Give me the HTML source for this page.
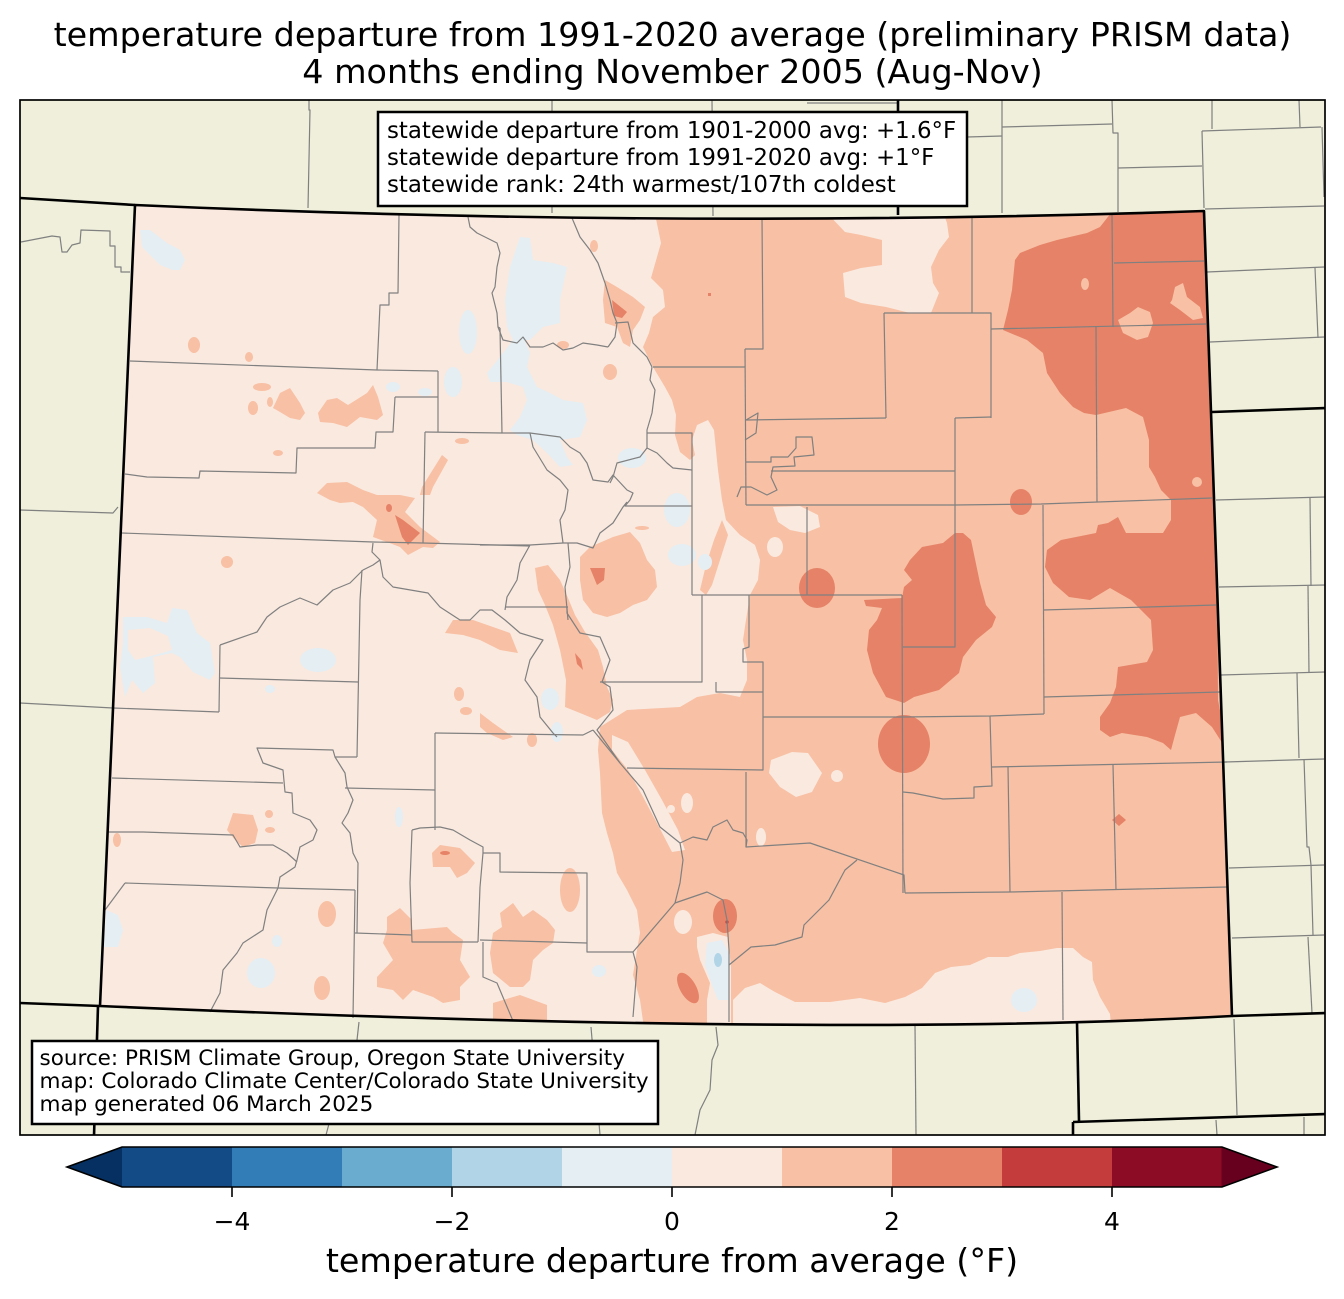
<!DOCTYPE html>
<html>
<head>
<meta charset="utf-8">
<style>
html,body{margin:0;padding:0;background:#fff;}
svg{display:block;}
text{font-family:"DejaVu Sans","Liberation Sans",sans-serif;fill:#000;}
.cl{fill:none;stroke:#808080;stroke-width:1.2;stroke-linejoin:round;}
.sb{fill:none;stroke:#000;stroke-width:2.6;stroke-linejoin:round;}
.s{fill:#f8c0a4;}
.d{fill:#e58267;}
.l{fill:#fae9df;}
.b{fill:#e4eef3;}
</style>
</head>
<body>
<svg width="1344" height="1299" viewBox="0 0 1344 1299" xmlns="http://www.w3.org/2000/svg">
<defs>
<clipPath id="co"><path d="M135,205 Q670,229 1204,211 L1232,1016 Q834,1038 100,1006 Z"/></clipPath>
<clipPath id="fr"><rect x="20" y="100" width="1305" height="1035"/></clipPath>
</defs>
<rect width="1344" height="1299" fill="#fff"/>

<!-- titles -->
<text x="672.5" y="46" font-size="33.33" text-anchor="middle">temperature departure from 1991-2020 average (preliminary PRISM data)</text>
<text x="672.5" y="83" font-size="33.33" text-anchor="middle">4 months ending November 2005 (Aug-Nov)</text>

<!-- map background -->
<rect x="20" y="100" width="1305" height="1035" fill="#efefdb"/>

<!-- neighbor county lines -->
<g clip-path="url(#fr)" class="cl">
<polyline class="cl" points="309,100 309,110 310,110 308,208"/>
<polyline class="cl" points="552,100 552,213"/>
<polyline class="cl" points="712,100 713,216"/>
<polyline class="cl" points="807,103 898,103"/>
<polyline class="cl" points="21,242 52,236 60,237 62,252 67,252 72,245 80,243 81,230 110,231 110,246 115,246 115,267 121,267 121,272 130,272"/>
<polyline class="cl" points="20,510 113,513 118,507"/>
<polyline class="cl" points="20,703 113,708"/>
<polyline class="cl" points="1002,100 1002,213"/>
<polyline class="cl" points="967,137 1002,136"/>
<polyline class="cl" points="1002,127 1112,124"/>
<polyline class="cl" points="1112,100 1113,133 1118,133 1118,212"/>
<polyline class="cl" points="1118,168 1202,166"/>
<polyline class="cl" points="1212,100 1212,129"/>
<polyline class="cl" points="1202,131 1321,127"/>
<polyline class="cl" points="1299,100 1300,127"/>
<polyline class="cl" points="1202,131 1204,208"/>
<polyline class="cl" points="1205,209 1324,206"/>
<polyline class="cl" points="1322,127 1324,197"/>
<polyline class="cl" points="1207,272 1324,267"/>
<polyline class="cl" points="1315,268 1318,338"/>
<polyline class="cl" points="1210,342 1324,337"/>
<polyline class="cl" points="1216,500 1325,497"/>
<polyline class="cl" points="1310,498 1311,586"/>
<polyline class="cl" points="1219,587 1325,585"/>
<polyline class="cl" points="1308,586 1309,673"/>
<polyline class="cl" points="1221,675 1325,672"/>
<polyline class="cl" points="1297,673 1299,758"/>
<polyline class="cl" points="1225,762 1324,759"/>
<polyline class="cl" points="1304,759 1307,847 1309,847 1311,865"/>
<polyline class="cl" points="1229,868 1324,865"/>
<polyline class="cl" points="1311,865 1313,935"/>
<polyline class="cl" points="1232,938 1324,935"/>
<polyline class="cl" points="1308,937 1312,1013"/>
<polyline class="cl" points="1234,1019 1237,1115"/>
<polyline class="cl" points="1216,1120 1217,1135"/>
<polyline class="cl" points="1304,1117 1304,1135"/>
<polyline class="cl" points="915,1025 916,1135"/>
<polyline class="cl" points="591,1027 600,1135"/>
<polyline class="cl" points="359,1022 357,1040 352,1060 345,1090 330,1120 326,1135"/>
<polyline class="cl" points="716,1027 718,1045 712,1060 710,1090 700,1110 695,1135"/>
</g>

<!-- Colorado base -->
<path d="M135,205 Q670,229 1204,211 L1232,1016 Q834,1038 100,1006 Z" fill="#fae9df"/>

<g clip-path="url(#co)">
<!-- big salmon east region -->
<polygon class="s" points="655,200 655,214 661,243 651,278 663,290 665,307 653,317 649,333 643,347 653,367 665,387 672,400 676,415 675,435 680,452 690,460 695,455 692,440 697,425 708,420 714,430 716,450 718,470 722,500 726,520 740,535 755,545 760,560 758,580 750,595 746,620 743,640 747,660 747,680 740,697 720,693 697,697 680,707 627,710 600,727 598,750 600,773 602,813 607,833 613,853 617,873 627,890 637,910 640,933 637,950 633,975 640,1000 645,1035 1245,1035 1245,200"/>
<!-- light islands -->
<polygon class="l" points="826,212 845,232 861,235 882,240 882,265 861,268 843,273 845,297 861,303 886,307 910,313 931,313 939,293 933,283 931,267 939,250 949,237 947,223 943,212"/>
<polygon class="l" points="771,760 792,752 808,753 822,773 812,792 796,797 780,787 769,773"/>
<polygon class="l" points="773,507 800,506 818,515 820,527 805,533 790,530 778,522"/>
<ellipse class="l" cx="775" cy="547" rx="8" ry="10"/>
<polygon class="l" points="612,735 628,742 645,770 662,800 678,830 685,850 672,852 658,825 642,795 628,770 612,750"/>
<ellipse class="l" cx="687" cy="803" rx="6" ry="10"/>
<ellipse class="l" cx="671" cy="809" rx="4" ry="4"/>
<ellipse class="l" cx="837" cy="776" rx="6" ry="6"/>
<ellipse class="l" cx="761" cy="837" rx="5" ry="9"/>
<ellipse class="l" cx="683" cy="922" rx="9" ry="12"/>
<polygon class="l" points="697,937 713,933 728,937 731,967 731,1030 707,1030 707,1000 710,983 700,960 697,947"/>
<polygon class="b" points="707,943 722,940 730,955 729,1000 718,1000 712,985 705,965"/>
<ellipse cx="718" cy="960" rx="4" ry="7" fill="#b1d5e7"/>
<polygon class="l" points="733,1035 733,1000 745,988 760,983 775,992 795,1002 830,1002 860,998 885,1003 905,997 922,988 935,973 951,967 970,965 988,957 1008,957 1020,953 1040,951 1057,948 1073,948 1083,957 1092,962 1093,980 1100,997 1110,1014 1112,1035"/>
<ellipse class="b" cx="1024" cy="1000" rx="13" ry="12"/>
<!-- salmon sliver near front range -->
<polygon class="s" points="722,520 728,535 720,560 712,585 706,595 700,590 706,565 714,540"/>

<!-- dark NE -->
<polygon class="d" points="1111,205 1215,205 1218,700 1228,752 1212,727 1196,713 1180,717 1175,735 1171,750 1163,743 1147,737 1122,733 1110,737 1100,730 1100,717 1110,703 1116,687 1118,667 1147,662 1153,650 1151,620 1131,600 1110,588 1090,600 1069,597 1053,583 1045,567 1047,550 1061,540 1096,533 1098,525 1108,523 1118,517 1126,533 1163,533 1171,520 1171,500 1161,490 1155,477 1149,467 1149,440 1143,417 1126,408 1096,415 1084,413 1073,407 1060,393 1047,373 1043,353 1027,340 1003,330 1008,310 1012,290 1015,260 1020,253 1040,245 1057,240 1087,233 1100,227 1111,213"/>
<ellipse class="s" cx="1085" cy="284" rx="4" ry="6"/>
<polygon class="s" points="1172,300 1175,287 1183,283 1187,297 1200,307 1203,318 1193,320 1180,310 1170,303"/>
<polygon class="s" points="1118,320 1130,313 1138,307 1150,312 1153,323 1148,337 1137,340 1123,333"/>
<ellipse class="s" cx="1197" cy="482" rx="5" ry="5"/>
<!-- dark central -->
<polygon class="d" points="955,533 963,533 971,540 980,583 986,605 996,617 992,627 976,640 963,657 959,673 939,690 914,697 904,703 886,697 873,673 867,650 869,630 877,620 882,608 866,606 864,600 902,598 904,587 912,580 904,570 910,560 922,547 943,543"/>
<ellipse class="d" cx="904" cy="744" rx="26" ry="29"/>
<ellipse class="d" cx="817" cy="588" rx="18" ry="20"/>
<ellipse class="d" cx="1021" cy="502" rx="11" ry="13"/>
<polygon class="d" points="1119,814 1126,820 1119,826 1112,820"/>
<ellipse class="d" cx="725" cy="916" rx="12" ry="17"/>
<circle cx="727" cy="922" r="1.6" fill="#c43c3c"/>
<ellipse class="d" cx="688" cy="988" rx="8" ry="17" transform="rotate(-30 688 988)"/>
<rect class="d" x="708" y="293" width="3" height="3"/>

<!-- west salmon patches -->
<polygon class="s" points="605,280 617,287 633,297 645,307 640,320 633,330 630,347 623,343 617,327 605,323 603,300"/>
<polygon class="d" points="612,300 627,312 622,318 614,316"/>
<ellipse class="s" cx="594" cy="246" rx="4" ry="6"/>
<ellipse class="s" cx="610" cy="372" rx="7" ry="8"/>
<ellipse class="s" cx="563" cy="345" rx="6" ry="4"/>
<ellipse class="s" cx="642" cy="528" rx="7" ry="2"/>
<polygon class="s" points="580,557 590,547 613,537 630,532 640,543 647,560 655,570 657,587 647,600 633,605 620,613 607,617 593,613 583,600 580,580"/>
<polygon class="d" points="590,568 605,568 604,580 597,585"/>
<polygon class="s" points="535,568 548,565 560,580 568,598 575,615 585,632 598,650 603,667 607,687 613,700 610,712 597,720 580,713 565,707 566,680 560,650 553,625 545,605 538,590"/>
<polygon class="d" points="575,653 581,660 583,670 577,664"/>
<polygon class="s" points="445,633 453,620 473,620 493,627 510,633 518,653 500,650 480,640 463,635"/>
<polygon class="s" points="480,713 493,723 513,737 503,740 487,733 480,727"/>
<ellipse class="s" cx="459" cy="694" rx="5" ry="7"/>
<ellipse class="s" cx="466" cy="711" rx="6" ry="4"/>
<ellipse class="s" cx="532" cy="740" rx="5" ry="7"/>
<polygon class="s" points="227,830 233,813 253,815 258,830 255,843 243,847 235,840"/>
<ellipse class="s" cx="269" cy="814" rx="4" ry="4"/>
<ellipse class="s" cx="270" cy="830" rx="5" ry="3"/>
<polygon class="s" points="387,917 400,908 412,920 412,930 447,927 453,933 463,940 460,960 470,977 460,987 460,1000 443,1003 433,997 413,990 403,1000 393,990 377,987 377,977 393,960 383,943 387,930"/>
<polygon class="s" points="432,853 440,845 460,848 475,863 467,873 457,878 450,867 433,867"/>
<ellipse class="d" cx="445" cy="853" rx="5" ry="2"/>
<polygon class="s" points="500,913 513,903 523,917 533,910 547,920 555,930 553,943 543,950 533,960 530,980 523,987 510,987 493,973 490,953 493,933 502,927"/>
<ellipse class="s" cx="570" cy="890" rx="10" ry="22"/>
<polygon class="s" points="493,1003 520,995 547,1005 547,1025 493,1025"/>
<ellipse class="s" cx="322" cy="988" rx="8" ry="12"/>
<ellipse class="s" cx="327" cy="914" rx="9" ry="13"/>
<ellipse class="s" cx="117" cy="840" rx="4" ry="7"/>
<ellipse class="s" cx="194" cy="345" rx="6" ry="8"/>
<ellipse class="s" cx="249" cy="357" rx="4" ry="5"/>
<ellipse class="s" cx="253" cy="408" rx="5" ry="7"/>
<ellipse class="s" cx="270" cy="402" rx="3" ry="5"/>
<polygon class="s" points="273,408 280,393 290,388 300,403 305,413 300,420 290,418 280,412"/>
<ellipse class="s" cx="262" cy="387" rx="9" ry="4"/>
<polygon class="s" points="318,413 327,400 337,398 348,405 367,393 373,385 378,397 383,415 377,420 360,417 347,427 333,423 320,422"/>
<ellipse class="s" cx="278" cy="453" rx="5" ry="3"/>
<polygon class="s" points="317,493 327,483 347,482 363,490 377,495 400,495 415,498 405,512 420,527 440,542 433,548 423,547 408,555 400,547 387,542 373,537 377,520 363,507 353,502 340,503 330,500"/>
<polygon class="d" points="395,515 403,520 420,533 408,545 402,537"/>
<ellipse class="d" cx="389" cy="508" rx="3" ry="4"/>
<polygon class="s" points="442,455 448,460 433,487 430,495 420,495 422,487"/>
<ellipse class="s" cx="462" cy="441" rx="7" ry="3"/>
<ellipse class="s" cx="227" cy="562" rx="6" ry="6"/>

<!-- blue patches -->
<polygon class="b" points="140,230 150,230 167,243 180,250 185,260 180,270 173,270 160,265 150,255 142,247"/>
<polygon class="b" points="123,617 147,617 167,623 172,608 187,610 197,633 210,643 215,673 210,680 193,672 180,657 172,653 153,657 155,683 143,693 132,680 125,697 120,667 123,643"/>
<polygon class="l" points="128,630 150,628 168,636 172,650 155,655 135,660 128,650"/>
<ellipse class="b" cx="318" cy="660" rx="18" ry="12"/>
<ellipse class="b" cx="270" cy="689" rx="5" ry="4"/>
<ellipse class="b" cx="399" cy="817" rx="4" ry="10"/>
<ellipse class="b" cx="261" cy="973" rx="14" ry="15"/>
<ellipse class="b" cx="277" cy="941" rx="5" ry="6"/>
<polygon class="b" points="106,910 118,915 123,930 118,947 104,947"/>
<ellipse class="b" cx="599" cy="971" rx="7" ry="6"/>
<ellipse class="b" cx="550" cy="699" rx="9" ry="11"/>
<ellipse class="b" cx="557" cy="732" rx="6" ry="10"/>
<polygon class="b" points="510,267 520,237 530,238 533,260 553,263 567,267 560,300 560,323 543,327 530,340 513,340 507,327 505,300"/>
<polygon class="b" points="487,373 500,357 513,340 523,337 530,353 527,367 537,387 550,393 563,400 583,403 587,420 580,437 560,440 567,457 573,465 560,467 547,453 533,440 517,435 510,430 520,417 527,400 523,387 507,382 490,382"/>
<ellipse class="b" cx="453" cy="382" rx="9" ry="15"/>
<ellipse class="b" cx="468" cy="332" rx="9" ry="22"/>
<ellipse class="b" cx="393" cy="387" rx="7" ry="5"/>
<ellipse class="b" cx="425" cy="392" rx="7" ry="4"/>
<ellipse class="b" cx="632" cy="458" rx="14" ry="10"/>
<ellipse class="b" cx="677" cy="510" rx="13" ry="17"/>
<ellipse class="b" cx="682" cy="555" rx="14" ry="11"/>
<ellipse class="b" cx="705" cy="562" rx="7" ry="8"/>
</g>

<!-- Colorado county lines -->
<g class="cl">
<polyline class="cl" points="399,215 398,293 389,293 389,305 380,305 377,370"/>
<polyline class="cl" points="130,361 377,370 438,371"/>
<polyline class="cl" points="438,371 438,432"/>
<polyline class="cl" points="395,397 438,397"/>
<polyline class="cl" points="395,397 393,432 376,432 375,448 297,448 296,473 200,471 199,478 147,477 125,474"/>
<polyline class="cl" points="122,533 373,542 423,543 530,546"/>
<polyline class="cl" points="425,432 502,433"/>
<polyline class="cl" points="425,432 423,543"/>
<polyline class="cl" points="500,328 502,433"/>
<polyline class="cl" points="468,217 470,227 477,233 487,238 497,243 500,253 497,267 495,287 492,293 497,313 498,327 500,328"/>
<polyline class="cl" points="498,327 503,340 517,343 523,337 530,347 543,347 553,343 563,350 573,348 583,343 597,345 608,347"/>
<polyline class="cl" points="572,218 580,237 590,250 598,263 605,283 610,300 613,313 617,323 615,337 608,347"/>
<polyline class="cl" points="615,323 628,322 630,330 633,343 647,357 652,367"/>
<polyline class="cl" points="653,367 745,367"/>
<polyline class="cl" points="652,367 650,380 655,390 652,413 647,430 647,448 640,457 617,463 613,477 610,483"/>
<polyline class="cl" points="647,448 657,453 667,463 673,468 692,470"/>
<polyline class="cl" points="502,433 530,433 560,437 570,447 580,453 587,463 593,480 608,482 613,475 627,490 633,493 630,500 625,506 692,506"/>
<polyline class="cl" points="530,433 533,447 547,470 560,480 568,490 565,510 560,520 563,543"/>
<polyline class="cl" points="480,545 530,545 563,543 577,543 593,548 600,533 613,523 623,507 627,502"/>
<polyline class="cl" points="530,545 520,563 517,580 507,597 505,610"/>
<polyline class="cl" points="505,607 568,607"/>
<polyline class="cl" points="568,543 570,567 565,587 568,620"/>
<polyline class="cl" points="647,433 692,433 692,595"/>
<polyline class="cl" points="692,595 902,595"/>
<polyline class="cl" points="702,595 702,682 600,682"/>
<polyline class="cl" points="807,507 807,595"/>
<polyline class="cl" points="746,420 758,413 756,433 745,440"/>
<polyline class="cl" points="745,349 763,349 762,218"/>
<polyline class="cl" points="745,349 746,505"/>
<polyline class="cl" points="746,420 886,418"/>
<polyline class="cl" points="884,313 886,418"/>
<polyline class="cl" points="884,313 991,313 991,418"/>
<polyline class="cl" points="972,218 972,313"/>
<polyline class="cl" points="746,462 771,462 771,457 788,457 796,448 796,437 812,437 814,455 794,457 795,466 773,467 771,477 777,490 767,495 751,487 741,487 737,497"/>
<polyline class="cl" points="771,471 955,471"/>
<polyline class="cl" points="746,505 955,505 1041,504 1212,498"/>
<polyline class="cl" points="991,329 1206,324"/>
<polyline class="cl" points="1114,263 1204,261"/>
<polyline class="cl" points="1112,215 1113,327"/>
<polyline class="cl" points="1096,327 1097,502"/>
<polyline class="cl" points="955,418 991,417"/>
<polyline class="cl" points="955,418 955,505"/>
<polyline class="cl" points="955,505 955,647 903,647"/>
<polyline class="cl" points="902,595 903,893"/>
<polyline class="cl" points="1043,505 1044,714"/>
<polyline class="cl" points="1043,610 1216,605"/>
<polyline class="cl" points="1044,697 1220,692"/>
<polyline class="cl" points="763,717 903,717 990,716 1044,714"/>
<polyline class="cl" points="990,716 992,786 974,787 974,798 943,799 913,793 903,792"/>
<polyline class="cl" points="992,767 1227,762"/>
<polyline class="cl" points="1008,767 1010,892"/>
<polyline class="cl" points="1113,765 1116,890"/>
<polyline class="cl" points="905,893 1010,892 1227,887"/>
<polyline class="cl" points="1062,892 1063,1020"/>
<polyline class="cl" points="749,595 749,647 743,649 743,662 763,662 763,770 627,768"/>
<polyline class="cl" points="716,682 716,692 763,692"/>
<polyline class="cl" points="746,772 746,847 810,843 904,875 905,893"/>
<polyline class="cl" points="857,860 845,870 829,900 804,925 802,937 775,945 751,947 729,965"/>
<polyline class="cl" points="593,730 620,763 643,790 660,827 680,843 683,860 680,883 675,903 633,952 637,967 633,1017"/>
<polyline class="cl" points="680,843 693,837 707,840 713,827 727,820 733,830 743,833 747,840 746,847"/>
<polyline class="cl" points="675,903 707,892 723,900 727,920 729,950 729,1022"/>
<polyline class="cl" points="220,645 257,632 267,617 280,607 300,598 317,605 333,590 350,583 363,570 373,565 380,560 372,552 373,543"/>
<polyline class="cl" points="362,570 360,600 357,757"/>
<polyline class="cl" points="380,560 383,577 393,587 428,593 440,607 460,620 470,620 480,610 492,610 505,620 520,633 543,640 530,660 525,680 537,697 540,717 553,733 557,737"/>
<polyline class="cl" points="567,607 567,613 580,633 600,637 610,660 602,682 610,687 613,710 597,730 620,763"/>
<polyline class="cl" points="220,645 219,712"/>
<polyline class="cl" points="113,708 219,712"/>
<polyline class="cl" points="219,678 358,682"/>
<polyline class="cl" points="357,757 335,757 333,750 257,748 263,763 283,770 285,792 292,793 293,813 310,820 317,830 313,840 300,847 297,860 295,867 280,877 278,888"/>
<polyline class="cl" points="112,778 283,783"/>
<polyline class="cl" points="108,832 143,832 233,835 240,847 257,845 273,845 287,853 297,862"/>
<polyline class="cl" points="125,883 278,888 355,890"/>
<polyline class="cl" points="125,883 105,910"/>
<polyline class="cl" points="278,888 267,910 263,930 243,943 237,953 223,970 220,993 210,1012"/>
<polyline class="cl" points="355,890 353,1018"/>
<polyline class="cl" points="335,757 345,773 347,787 353,800 348,813 342,823 350,833 353,853 358,863 357,933"/>
<polyline class="cl" points="345,788 435,790"/>
<polyline class="cl" points="435,733 435,830"/>
<polyline class="cl" points="435,733 583,735 593,730"/>
<polyline class="cl" points="355,933 412,935"/>
<polyline class="cl" points="412,830 420,828 440,827 453,830 470,840 483,847 483,853 500,853 500,872 587,873 587,952 633,952"/>
<polyline class="cl" points="412,830 410,883 412,942 478,942"/>
<polyline class="cl" points="483,853 480,887 478,942"/>
<polyline class="cl" points="480,940 587,943"/>
<polyline class="cl" points="483,942 483,977 497,983 513,1021"/>
</g>

<!-- state borders -->
<g clip-path="url(#fr)">
<path class="sb" d="M135,205 Q670,229 1204,211 L1232,1016 Q834,1038 100,1006 Z"/>
<polyline class="sb" points="20,198 135,205"/>
<polyline class="sb" points="898,100 898,215"/>
<polyline class="sb" points="1212,412 1326,408"/>
<polyline class="sb" points="1232,1016 1326,1013"/>
<polyline class="sb" points="1077,1022 1079,1121"/>
<polyline class="sb" points="1073,1122 1326,1114"/>
<polyline class="sb" points="1073,1122 1073,1136"/>
<polyline class="sb" points="20,1003 100,1006"/>
<polyline class="sb" points="98,1006 94,1136"/>
</g>

<!-- frame -->
<rect x="20" y="100" width="1305" height="1035" fill="none" stroke="#000" stroke-width="1.7"/>

<!-- stats box -->
<rect x="378" y="112" width="589" height="94" fill="#fff" stroke="#000" stroke-width="2.5"/>
<text x="387" y="138" font-size="22.9">statewide departure from 1901-2000 avg: +1.6°F</text>
<text x="387" y="165" font-size="22.9">statewide departure from 1991-2020 avg: +1°F</text>
<text x="387" y="192" font-size="22.9">statewide rank: 24th warmest/107th coldest</text>

<!-- source box -->
<rect x="32" y="1041" width="626" height="83" fill="#fff" stroke="#000" stroke-width="2.5"/>
<text x="39.5" y="1065" font-size="21.5">source: PRISM Climate Group, Oregon State University</text>
<text x="39.5" y="1088" font-size="21.5">map: Colorado Climate Center/Colorado State University</text>
<text x="39.5" y="1111" font-size="21.5">map generated 06 March 2025</text>

<!-- colorbar -->
<polygon points="122.5,1147 67,1167 122.5,1187" fill="#053061"/>
<rect x="122" y="1147" width="110.5" height="40" fill="#134b86"/>
<rect x="232" y="1147" width="110.5" height="40" fill="#327cb7"/>
<rect x="342" y="1147" width="110.5" height="40" fill="#6aacd0"/>
<rect x="452" y="1147" width="110.5" height="40" fill="#b1d5e7"/>
<rect x="562" y="1147" width="110.5" height="40" fill="#e4eef3"/>
<rect x="672" y="1147" width="110.5" height="40" fill="#fae9df"/>
<rect x="782" y="1147" width="110.5" height="40" fill="#f8c0a4"/>
<rect x="892" y="1147" width="110.5" height="40" fill="#e58267"/>
<rect x="1002" y="1147" width="110.5" height="40" fill="#c43c3c"/>
<rect x="1112" y="1147" width="110" height="40" fill="#8c0c25"/>
<polygon points="1221.5,1147 1277,1167 1221.5,1187" fill="#67001f"/>
<polygon points="122,1147 1222,1147 1277,1167 1222,1187 122,1187 67,1167" fill="none" stroke="#000" stroke-width="1.6" stroke-linejoin="miter"/>
<g stroke="#000" stroke-width="1.6">
<line x1="232" y1="1187" x2="232" y2="1197"/>
<line x1="452" y1="1187" x2="452" y2="1197"/>
<line x1="672" y1="1187" x2="672" y2="1197"/>
<line x1="892" y1="1187" x2="892" y2="1197"/>
<line x1="1112" y1="1187" x2="1112" y2="1197"/>
</g>
<text x="232" y="1230" font-size="25" text-anchor="middle">−4</text>
<text x="452" y="1230" font-size="25" text-anchor="middle">−2</text>
<text x="672" y="1230" font-size="25" text-anchor="middle">0</text>
<text x="892" y="1230" font-size="25" text-anchor="middle">2</text>
<text x="1112" y="1230" font-size="25" text-anchor="middle">4</text>
<text x="672" y="1272" font-size="33.33" text-anchor="middle">temperature departure from average (°F)</text>
</svg>
</body>
</html>
